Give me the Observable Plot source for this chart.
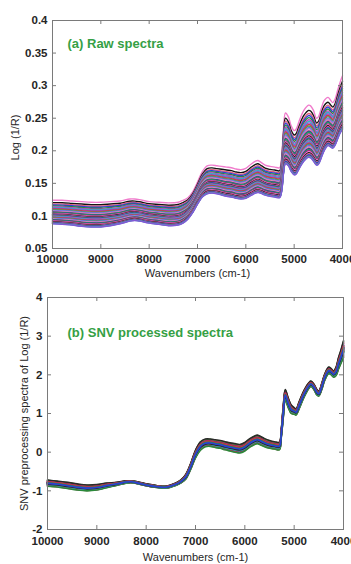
<!DOCTYPE html>
<html><head><meta charset="utf-8">
<script src="https://cdn.jsdelivr.net/npm/d3@7"></script>
<script src="https://cdn.jsdelivr.net/npm/@observablehq/plot@0.6"></script>
<style>
html,body{margin:0;padding:0;background:#fff;}
#chart{width:351px;}
#chart svg{display:block;}
</style></head><body><div id="chart"></div>
<script>
// Wavenumbers (cm-1) at which the spectra envelopes were read
const wavenumbers = [10000,9800,9600,9400,9200,9000,8800,8600,8400,8300,8200,8000,7800,7600,7400,7300,7200,7100,7000,6900,
  6800,6700,6600,6500,6400,6300,6200,6100,6000,5900,5800,5750,5700,5600,5500,5400,5300,5260,5220,5180,
  5120,5060,5000,4960,4900,4800,4700,4660,4600,4540,4500,4440,4380,4300,4250,4200,4150,4100,4050,4000];

// (a) raw spectra: upper and lower edge of the band, Log(1/R)
const rawHigh = [0.124,0.124,0.123,0.122,0.121,0.121,0.122,0.123,0.126,0.126,0.125,0.122,0.121,0.120,0.121,0.124,0.128,0.137,0.152,0.168,
  0.177,0.178,0.177,0.176,0.175,0.174,0.172,0.171,0.173,0.179,0.184,0.185,0.183,0.178,0.176,0.175,0.174,0.190,0.235,0.258,
  0.252,0.238,0.231,0.233,0.245,0.262,0.270,0.269,0.262,0.250,0.252,0.265,0.277,0.282,0.278,0.274,0.280,0.293,0.305,0.315];
const rawLow = [0.088,0.087,0.086,0.084,0.083,0.083,0.085,0.088,0.092,0.093,0.092,0.089,0.087,0.085,0.086,0.089,0.095,0.105,0.118,0.129,
  0.134,0.135,0.134,0.132,0.130,0.129,0.127,0.126,0.127,0.131,0.135,0.136,0.135,0.132,0.130,0.129,0.128,0.137,0.165,0.180,
  0.177,0.168,0.163,0.164,0.172,0.184,0.190,0.189,0.184,0.178,0.179,0.189,0.200,0.208,0.206,0.204,0.209,0.218,0.227,0.233];

// (b) SNV processed spectra: upper and lower edge of the band
const snvHigh = [-0.72,-0.75,-0.78,-0.82,-0.85,-0.84,-0.80,-0.78,-0.74,-0.74,-0.76,-0.82,-0.86,-0.88,-0.80,-0.72,-0.58,-0.30,0.05,0.27,
  0.34,0.34,0.32,0.30,0.27,0.24,0.22,0.20,0.25,0.35,0.42,0.44,0.42,0.35,0.30,0.27,0.26,0.60,1.20,1.62,
  1.40,1.22,1.15,1.12,1.30,1.60,1.80,1.84,1.76,1.62,1.58,1.78,2.02,2.20,2.16,2.10,2.20,2.45,2.65,2.88];
const snvLow = [-0.88,-0.90,-0.94,-0.98,-1.00,-0.98,-0.92,-0.86,-0.80,-0.79,-0.81,-0.87,-0.91,-0.93,-0.86,-0.80,-0.70,-0.45,-0.15,0.05,
  0.14,0.15,0.12,0.10,0.06,0.03,0.00,-0.02,0.03,0.13,0.20,0.22,0.20,0.14,0.10,0.08,0.06,0.40,0.90,1.34,
  1.15,1.00,0.98,0.96,1.12,1.42,1.65,1.70,1.62,1.48,1.45,1.62,1.86,2.03,2.00,1.94,1.98,2.15,2.30,2.45];

// position of each sample inside the band (0 = lower edge, 1 = upper edge)
const rawLevels = [1.0,0.90,0.84,0.80,0.76,0.72,0.69,0.66,0.63,0.60,0.57,0.55,0.52,0.50,0.48,0.45,0.43,0.41,0.39,0.37,
  0.35,0.33,0.31,0.29,0.27,0.25,0.23,0.21,0.19,0.17,0.15,0.13,0.11,0.09,0.07,0.05,0.03,0.02,0.01,0.0];
const snvLevels = [0.50,0.55,0.45,0.60,0.40,0.65,0.35,0.70,0.30,0.52,0.48,0.58,0.42,0.62,0.38,0.75,0.25,0.80,0.20,0.85,
  0.15,0.90,0.10,0.95,0.05,1.00,0.00,0.56,0.44,0.68,0.32,0.72,0.28,0.50,0.60,0.40,0.66,0.34,0.54,0.46];

const xTicks = [10000,9000,8000,7000,6000,5000,4000];
const rawYTicks = [0.05,0.1,0.15,0.2,0.25,0.3,0.35,0.4];
const snvYTicks = [-2,-1,0,1,2,3,4];
const titles = ["(a) Raw spectra", "(b) SNV processed spectra"];
const yLabels = ["Log (1/R)", "SNV preprocessing spectra of Log (1/R)"];
const xLabel = "Wavenumbers (cm-1)";

// styles
const rawPalette = ["#f07ccc","#151515","#e0607e","#2b3fd8","#2a8a3a","#c23ac2","#2fb5bf","#8357d6","#d2304e","#5f9a48",
  "#4f6fee","#b07ad0","#e888a8","#3c3c8c","#1fa060","#a02080"];
const snvPalette = ["#d2304e","#2a2a2a","#2a8a3a","#2b3fd8","#c23ac2","#e0607e","#55705a","#8a2050","#2fb5bf","#b03070","#3c3c8c","#5f9a48"];
const frameColor = "#7a7a7a";
const green = "#35a045";

function panel(o) {
  const rows = [];
  o.levels.forEach((t, i) => {
    wavenumbers.forEach((w, j) => rows.push({s: i, wn: w, v: o.low[j] + t * (o.high[j] - o.low[j]), c: o.palette[i % o.palette.length]}));
  });
  const innerW = 351 - o.ml - o.mr, innerH = o.height - o.mt - o.mb;
  return Plot.plot({
    width: 351, height: o.height,
    marginTop: o.mt, marginBottom: o.mb, marginLeft: o.ml, marginRight: o.mr,
    style: {fontFamily: "'Liberation Sans', Arial, sans-serif", background: "#fff", color: "#262626"},
    x: {domain: [10000, 4000], label: null},
    y: {domain: o.yDomain, label: null},
    color: {type: "identity"},
    marks: [
      Plot.line(rows, {x: "wn", y: "v", z: "s", stroke: "c", strokeWidth: o.lw, curve: "catmull-rom"}),
      Plot.frame({stroke: frameColor}),
      Plot.tickX(xTicks, {x: d => d, stroke: frameColor, insetTop: innerH - 4}),
      Plot.tickX(xTicks, {x: d => d, stroke: frameColor, insetBottom: innerH - 4}),
      Plot.tickY(o.yTicks, {y: d => d, stroke: frameColor, insetRight: innerW - 4}),
      Plot.tickY(o.yTicks, {y: d => d, stroke: frameColor, insetLeft: innerW - 4}),
      Plot.axisX({ticks: xTicks, tickSize: 0, tickPadding: o.xPad, tickFormat: d => String(d), fontSize: 11.5, fontWeight: "bold", label: null}),
      Plot.axisY({ticks: o.yTicks, tickSize: 0, tickPadding: 5, tickFormat: d => String(d), fontSize: 11.5, fontWeight: "bold", label: null}),
      Plot.text([xLabel], {frameAnchor: "bottom", dy: o.xlDy, fontSize: 11, textAnchor: "middle", lineAnchor: "middle", fill: "#262626"}),
      Plot.text([o.ylabel], {frameAnchor: "left", dx: o.ylDx, dy: o.ylDy, rotate: -90, fontSize: 11, textAnchor: "middle", lineAnchor: "middle", fill: "#262626"}),
      Plot.text([o.title], {frameAnchor: "top-left", dx: o.tDx, dy: o.tDy, textAnchor: "start", lineAnchor: "middle", fill: green, fontSize: 13, fontWeight: "bold"})
    ]
  });
}

const chart = document.getElementById("chart");
chart.append(panel({levels: rawLevels, high: rawHigh, low: rawLow, yDomain: [0.05, 0.4], yTicks: rawYTicks, palette: rawPalette, lw: 1.4,
  title: titles[0], ylabel: yLabels[0], height: 282, mt: 20, mb: 34, ml: 52, mr: 9,
  xPad: 6, xlDy: 25, ylDx: -37, ylDy: 3, tDx: 15, tDy: 23}));
chart.append(panel({levels: snvLevels, high: snvHigh, low: snvLow, yDomain: [-2, 4], yTicks: snvYTicks, palette: snvPalette, lw: 1.6,
  title: titles[1], ylabel: yLabels[1], height: 282, mt: 15, mb: 35, ml: 47, mr: 8,
  xPad: 7.5, xlDy: 27.5, ylDx: -23.5, ylDy: 0, tDx: 20, tDy: 35}));
</script></body></html>
